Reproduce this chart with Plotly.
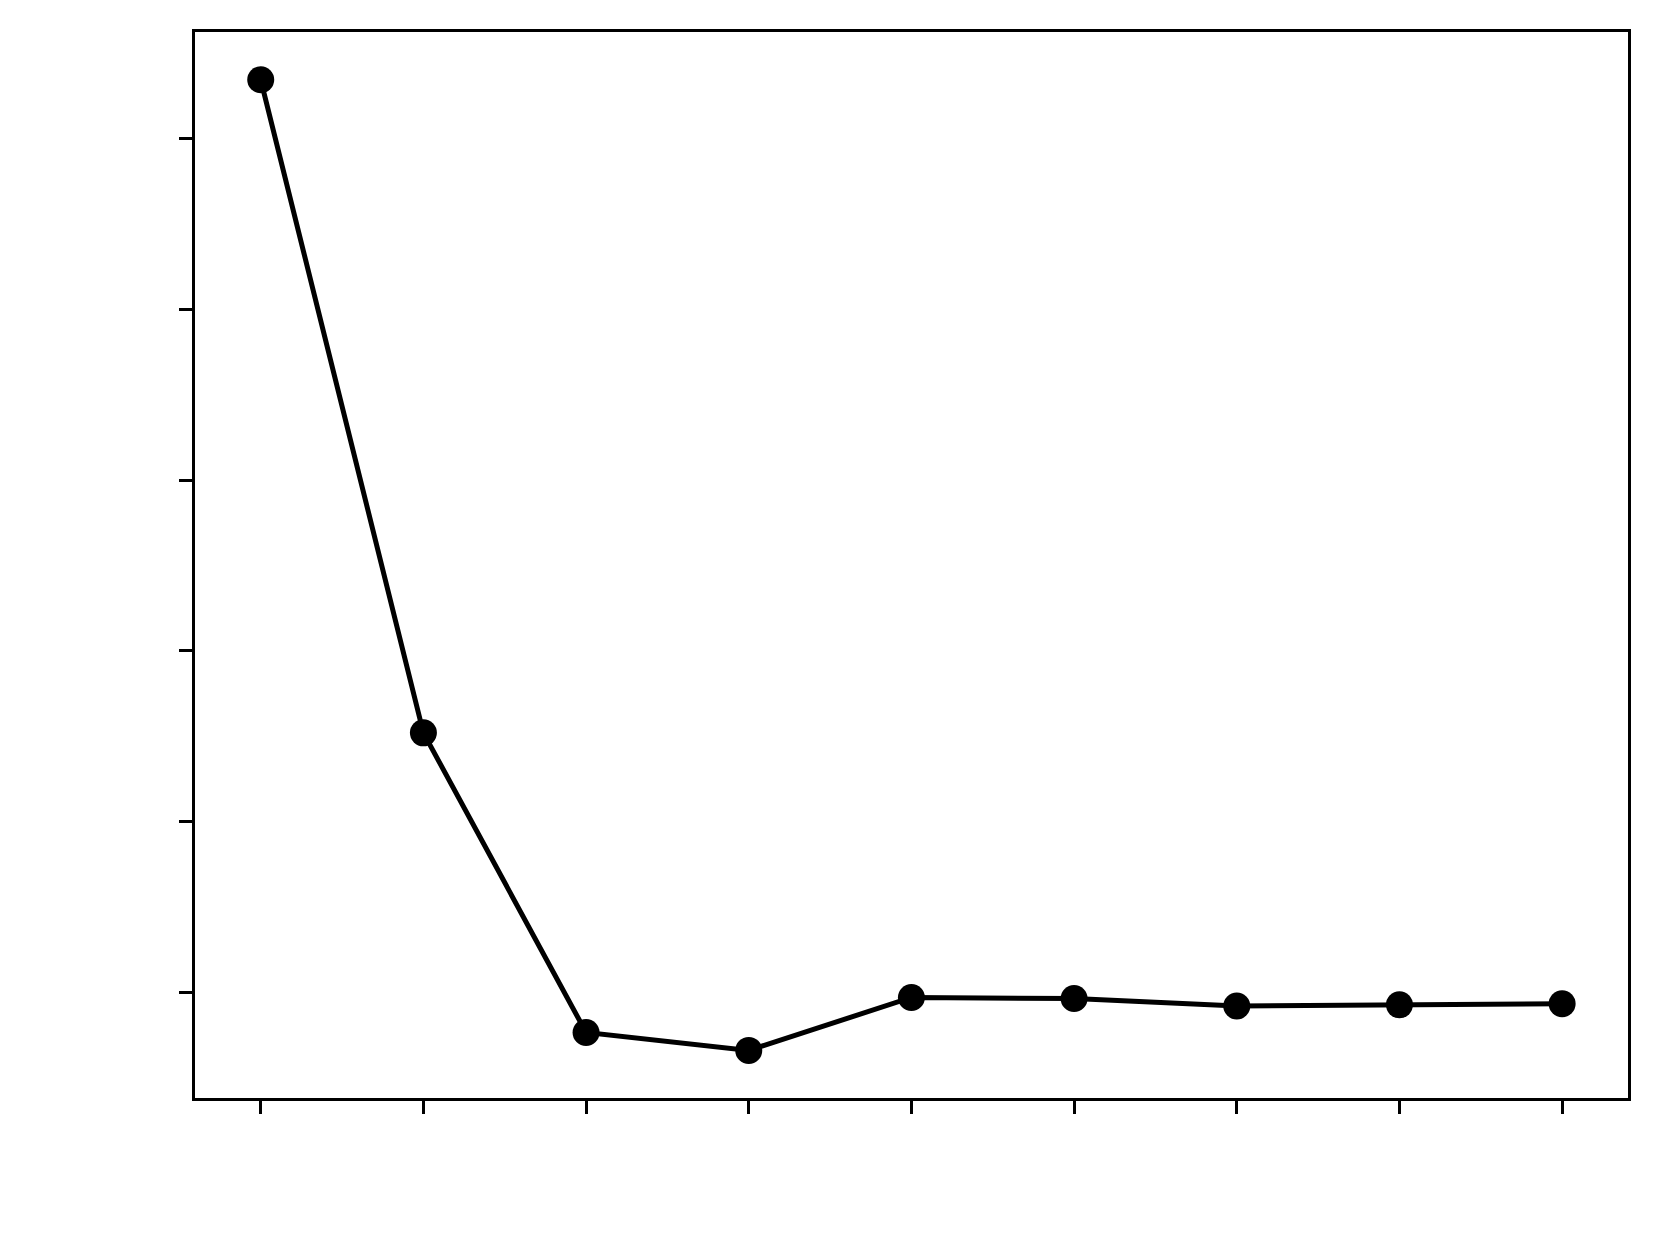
"""Line chart with markers: sharp drop then plateau (no labels shown)."""

import plotly.graph_objects as go

# ---------------------------------------------------------------------------
# Data
# ---------------------------------------------------------------------------
steps = [1, 2, 3, 4, 5, 6, 7, 8, 9]
values = [5.347, 1.520, -0.236, -0.341, -0.031, -0.037, -0.081, -0.074, -0.068]
y_ticks = [0, 1, 2, 3, 4, 5]

fig = go.Figure(
    go.Scatter(
        x=steps,
        y=values,
        mode="lines+markers",
        line={"color": "black", "width": 5},
        marker={"color": "black", "size": 27},
        showlegend=False,
    )
)

axis_common = dict(
    showline=True,
    linecolor="black",
    linewidth=3,
    mirror=True,
    showgrid=False,
    zeroline=False,
    ticks="outside",
    ticklen=13,
    tickwidth=3,
    tickcolor="black",
    showticklabels=False,
)

fig.update_xaxes(range=[0.596, 9.405], tickvals=steps, **axis_common)
fig.update_yaxes(range=[-0.620, 5.627], tickvals=y_ticks, **axis_common)

# page body adds an 8px offset, so the figure is trimmed by that much
fig.update_layout(
    width=1653,
    height=1244,
    paper_bgcolor="white",
    plot_bgcolor="white",
    margin={"l": 187, "r": 33, "t": 24, "b": 154},
)

fig.write_html("out.html")
